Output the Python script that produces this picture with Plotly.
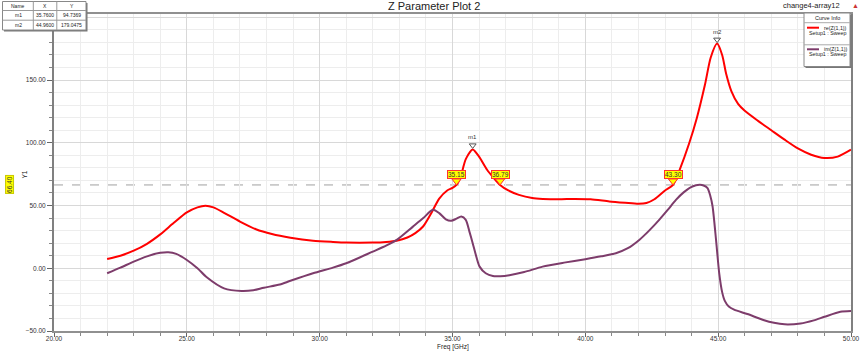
import plotly.graph_objects as go

# ---------------- data ----------------
re_freq = [22.0, 22.5, 23.0, 23.5, 24.0, 24.5, 25.0, 25.4, 25.7, 26.0, 26.4, 27.0, 27.6, 28.2, 28.9,
           29.75, 30.5, 31.0, 32.0, 32.5, 32.9, 33.3, 33.6, 33.9, 34.2, 34.5, 34.8, 35.0, 35.15, 35.3,
           35.5, 35.76, 36.0, 36.3, 36.55, 36.79, 37.1, 37.5, 38.0, 38.4, 39.0, 39.6, 40.2, 40.9, 41.5,
           42.0, 42.3, 42.6, 43.0, 43.3, 43.55, 43.9, 44.2, 44.5, 44.72, 44.96, 45.15, 45.3, 45.5, 45.75,
           46.0, 46.5, 47.0, 47.5, 48.0, 48.5, 49.0, 49.5, 50.0]
re_z11 = [7.4, 10.0, 14.0, 19.5, 27.0, 36.0, 44.5, 48.5, 49.8, 48.5, 44.2, 37.2, 31.1, 27.3, 24.4,
          22.0, 21.0, 20.5, 20.5, 21.0, 22.0, 24.5, 28.0, 33.5, 43.9, 55.5, 62.0, 64.0, 66.4, 72.5,
          87.0, 94.74, 89.0, 78.5, 72.0, 66.4, 62.0, 58.5, 56.0, 55.3, 55.0, 55.3, 55.0, 53.3, 52.2,
          51.4, 52.0, 55.0, 62.0, 66.4, 78.5, 99.0, 120.0, 146.0, 168.0, 179.05, 170.0, 155.0, 141.0, 131.0,
          125.5, 117.5, 110.0, 102.5, 95.5, 90.5, 87.9, 89.0, 94.5]

im_freq = [22.0, 22.5, 23.0, 23.5, 24.0, 24.3, 24.6, 25.0, 25.4, 25.75, 26.4, 27.06, 27.5, 27.9, 28.5,
           28.9, 29.75, 30.5, 31.0, 32.0, 32.5, 32.9, 33.5, 33.9, 34.26, 34.5, 34.75, 34.95, 35.15, 35.33,
           35.5, 35.64, 35.76, 35.9, 36.02, 36.25, 36.52, 36.8, 37.14, 37.7, 38.39, 39.2, 40.0, 40.6, 41.15,
           41.6, 42.03, 42.4, 42.78, 43.1, 43.41, 43.7, 44.03, 44.3, 44.45, 44.6, 44.7, 44.79, 44.92, 45.04,
           45.15, 45.25, 45.4, 45.6, 46.1, 46.7, 47.1, 47.5, 48.1, 48.6, 49.0, 49.6, 50.0]
im_z11 = [-4.0, 0.5, 5.3, 9.5, 12.3, 12.8, 11.5, 6.6, 0.0, -7.2, -16.0, -18.1, -17.5, -15.5, -13.0,
          -10.0, -4.0, 0.5, 4.0, 13.3, 18.0, 22.6, 33.0, 40.0, 46.6, 44.0, 39.0, 37.8, 39.5, 41.2,
          38.6, 29.0, 20.0, 9.0, 1.3, -4.0, -6.2, -6.3, -5.5, -3.0, 1.3, 4.5, 7.2, 9.5, 12.0,
          16.0, 22.6, 30.0, 38.6, 46.5, 54.5, 60.5, 65.2, 66.5, 66.0, 63.9, 58.0, 49.2, 22.6, -4.0,
          -19.0, -26.0, -30.5, -33.0, -36.5, -41.2, -43.5, -44.7, -44.0, -41.5, -38.7, -34.7, -34.1]

marker_names = ["m1", "m2"]
marker_x = [35.76, 44.96]
marker_y = [94.7369, 179.0475]

yline_value = 66.40
cross_x = [35.15, 36.79, 43.30]

curve_names = ["re(Z(1,1))", "im(Z(1,1))"]
curve_colors = ["#FF0000", "#7D3C6B"]

# ---------------- geometry helpers ----------------
W, H = 865, 353
L, R, T, B = 54, 14, 14, 22
PW, PH = W - L - R, H - T - B
YMIN, YMAX = -50, 202.65


def PX(x):
    return (x - L) / PW


def PY(y):
    return (H - B - y) / PH


FONT = "Liberation Sans, Arial, sans-serif"
unit_per_px = (YMAX - YMIN) / PH

fig = go.Figure()

fig.add_trace(go.Scatter(x=re_freq, y=re_z11, mode="lines", name=curve_names[0],
                         line=dict(color=curve_colors[0], width=2, shape="spline", smoothing=0.7),
                         hoverinfo="x+y"))
fig.add_trace(go.Scatter(x=im_freq, y=im_z11, mode="lines", name=curve_names[1],
                         line=dict(color=curve_colors[1], width=2, shape="spline", smoothing=0.7),
                         hoverinfo="x+y"))

# marker triangles (m1, m2)
fig.add_trace(go.Scatter(x=marker_x, y=[v + 4 * unit_per_px for v in marker_y], mode="markers",
                         marker=dict(symbol="triangle-down-open", size=6, color="#555555",
                                     line=dict(width=1, color="#555555")),
                         hoverinfo="skip"))

# yellow pointer triangles at crossings
fig.add_trace(go.Scatter(x=cross_x, y=[yline_value + 4 * unit_per_px] * len(cross_x), mode="markers",
                         marker=dict(symbol="triangle-down", size=8, color="#FFFF00",
                                     line=dict(width=1, color="#FF3030")),
                         hoverinfo="skip"))

shapes = []
annotations = []


def txt(x, y, text, size=6.5, xanchor="center", color="#222222", **kw):
    d = dict(x=PX(x), y=PY(y), xref="paper", yref="paper", text=text, showarrow=False,
             xanchor=xanchor, yanchor="middle", font=dict(size=size, color=color, family=FONT))
    d.update(kw)
    annotations.append(d)


def prect(x0, y0, x1, y1, **kw):
    d = dict(type="rect", xref="paper", yref="paper", x0=PX(x0), x1=PX(x1), y0=PY(y0), y1=PY(y1))
    d.update(kw)
    shapes.append(d)


def pline(x0, y0, x1, y1, color, width=1):
    shapes.append(dict(type="line", xref="paper", yref="paper", x0=PX(x0), x1=PX(x1), y0=PY(y0), y1=PY(y1),
                       line=dict(color=color, width=width)))


# dashed horizontal line at 66.40
shapes.append(dict(type="line", xref="paper", yref="y", x0=0, x1=1, y0=yline_value, y1=yline_value,
                   line=dict(color="#A0A0A0", width=1, dash="dash"), layer="below"))

# crossing labels
for cx in cross_x:
    annotations.append(dict(x=cx, y=yline_value, xref="x", yref="y", text=f"{cx:.2f}", showarrow=False,
                            xanchor="center", yanchor="middle",
                            yshift=10.5, font=dict(size=6.5, color="#333333", family=FONT),
                            bgcolor="#FFFF00", bordercolor="#FF3030", borderwidth=1, borderpad=0))

# marker labels
for n, mx, my in zip(marker_names, marker_x, marker_y):
    annotations.append(dict(x=mx, y=my, xref="x", yref="y", text=n, showarrow=False, yshift=12,
                            xanchor="center", yanchor="middle",
                            font=dict(size=6, color="#333333", family=FONT)))

# y-marker label 66.40 (rotated, yellow) left of the axis
annotations.append(dict(x=PX(10), y=yline_value, xref="paper", yref="y", text=f"{yline_value:.2f}",
                        showarrow=False, textangle=-90, xanchor="center", yanchor="middle",
                        font=dict(size=6.5, color="#333333", family=FONT),
                        bgcolor="#FFFF00", bordercolor="#C8C800", borderwidth=1, borderpad=0))

# axis titles
txt(24.5, 175, "Y1", size=6.5, textangle=-90)
txt(453, 347.5, "Freq [GHz]", size=6.5)

# Title & corner text
txt(434, 6.5, "Z Parameter Plot 2", size=11)
txt(842, 6, "change4-array12", size=7.5, xanchor="right")
txt(855, 5.5, "\u25B2", size=7, color="#CC3333")

# ---------- marker table (top-left) ----------
tx0, tx1, ty0, ty1 = 2.5, 86, 1.5, 30
prect(tx0 + 1.5, ty0 + 1.5, tx1 + 1.5, ty1 + 1.5, fillcolor="#777777", line=dict(width=0))
prect(tx0, ty0, tx1, ty1, fillcolor="white", line=dict(color="#888888", width=1))
for yy in [10.5, 20.2]:
    pline(tx0, yy, tx1, yy, "#999999")
for xx in [33.3, 56.8]:
    pline(xx, ty0, xx, ty1, "#999999")
col_cx = [18, 45, 71.5]
rows = [["Name", "X", "Y"]] + [[n, f"{mx:.4f}", f"{my:.4f}"]
                               for n, mx, my in zip(marker_names, marker_x, marker_y)]
row_cy = [6, 15.5, 25]
for r, cy in zip(rows, row_cy):
    for t, cx in zip(r, col_cx):
        txt(cx, cy, t, size=5, borderpad=0)

# ---------- Curve info box (top-right) ----------
lx0, lx1, ly0, ly1 = 804, 850, 13, 66.5
prect(lx0 + 1.5, ly0 + 1.5, lx1 + 1.5, ly1 + 1.5, fillcolor="#777777", line=dict(width=0))
prect(lx0, ly0, lx1, ly1, fillcolor="white", line=dict(color="#888888", width=1))
for yy in [22.7, 44.8]:
    pline(lx0, yy, lx1, yy, "#AAAAAA")
txt(827, 18, "Curve Info", size=5.5)
for name, col, yl in zip(curve_names, curve_colors, [27.7, 49.3]):
    pline(807, yl, 819, yl, col, 2)
    txt(822, yl, name, size=5.3, xanchor="left")
    txt(827, yl + 5.2, "Setup1 : Sweep", size=5.3)

fig.update_layout(
    width=W, height=H,
    margin=dict(l=L, r=R, t=T, b=B, pad=0, autoexpand=False),
    paper_bgcolor="white", plot_bgcolor="white",
    showlegend=False,
    font=dict(family=FONT, size=7, color="#333333"),
    shapes=shapes, annotations=annotations,
    xaxis=dict(range=[20, 50], dtick=5, tick0=20, tickformat=".2f", showgrid=True, gridcolor="#D8D8D8",
               gridwidth=1, zeroline=False, showline=True, linecolor="#909090", linewidth=2, mirror=True,
               ticks="outside", ticklen=4, tickcolor="#666666", automargin=False, ticklabelstandoff=-4,
               minor=dict(dtick=1, showgrid=True, gridcolor="#EDEDED", ticks="outside", ticklen=3,
                          tickcolor="#888888"),
               tickfont=dict(size=6.5, color="#333333")),
    yaxis=dict(range=[YMIN, YMAX], dtick=50, tick0=0, tickformat=".2f", showgrid=True, gridcolor="#D8D8D8",
               gridwidth=1, zeroline=False, showline=True, linecolor="#808080", linewidth=2, mirror=True,
               ticks="outside", ticklen=5, tickcolor="#666666", automargin=False,
               minor=dict(dtick=10, showgrid=True, gridcolor="#EDEDED", ticks="outside", ticklen=3,
                          tickcolor="#888888"),
               tickfont=dict(size=6.5, color="#333333")),
)

fig.write_html("out.html")
